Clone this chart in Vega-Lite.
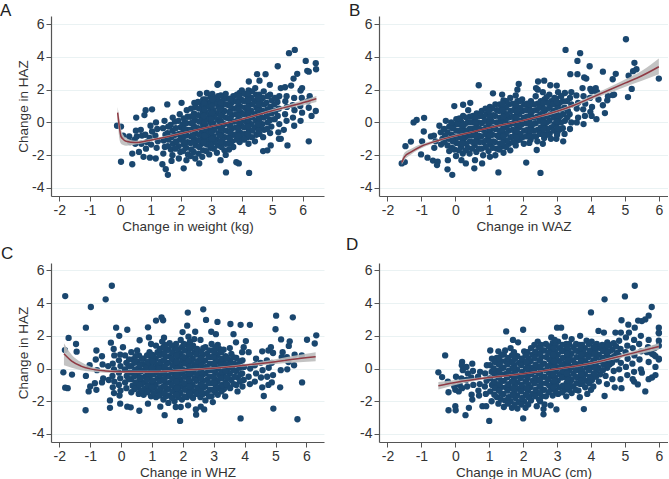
{"$schema":"https://vega.github.io/schema/vega-lite/v6.json","padding":{"left":0,"top":1,"right":0,"bottom":0},"background":"white","columns":2,"spacing":{"column":55,"row":67},"bounds":"flush","config":{"view":{"stroke":null},"font":"Liberation Sans","axis":{"domainColor":"#555555","tickColor":"#555555","labelColor":"#333333","titleColor":"#333333","labelFontSize":14,"titleFontSize":13.5,"titleFontWeight":"normal","domainWidth":1.2,"tickWidth":1,"tickSize":5,"labelPadding":2},"title":{"fontSize":17,"fontWeight":"normal","color":"#222222","anchor":"start","frame":"group","offset":0}},
"datasets":{
"a":[{"x":5.55,"y":4.23},{"x":5.74,"y":4.43},{"x":6.1,"y":3.76},{"x":6.43,"y":3.62},{"x":6.44,"y":3.25},{"x":6.2,"y":3.1},{"x":6.15,"y":3.15},{"x":5.82,"y":2.97},{"x":5.7,"y":2.68},{"x":5.18,"y":3.43},{"x":4.5,"y":2.95},{"x":4.78,"y":2.95},{"x":4.23,"y":2.5},{"x":4.58,"y":2.55},{"x":4.92,"y":2.3},{"x":3.22,"y":2.35},{"x":3.2,"y":2.3},{"x":0.03,"y":-2.4},{"x":0.4,"y":-2.55},{"x":0.4,"y":-1.9},{"x":1.57,"y":-3.2},{"x":1.5,"y":-2.85},{"x":1.39,"y":-2.55},{"x":1.17,"y":-2.2},{"x":0.98,"y":-2.15},{"x":0.77,"y":-2.1},{"x":0.62,"y":-1.8},{"x":1.69,"y":-2.35},{"x":2.09,"y":-2.8},{"x":2.6,"y":-2.5},{"x":3.48,"y":-3.05},{"x":3.82,"y":-2.43},{"x":3.9,"y":-2.5},{"x":4.24,"y":-3.08},{"x":3.3,"y":-2.3},{"x":3.47,"y":-1.98},{"x":3.58,"y":-1.65},{"x":4.7,"y":-1.75},{"x":4.84,"y":-1.7},{"x":4.95,"y":-1.4},{"x":5.5,"y":-1.4},{"x":6.2,"y":-1.15},{"x":5.22,"y":-1},{"x":5.28,"y":-1},{"x":5.38,"y":-0.45},{"x":6.43,"y":0.7},{"x":6.29,"y":0.4},{"x":-0.1,"y":-0.2},{"x":0.03,"y":-0.25},{"x":0.53,"y":0.3},{"x":0.84,"y":0.75},{"x":0.8,"y":0.45},{"x":1.05,"y":0.8},{"x":1.55,"y":1.1},{"x":2.02,"y":1.2},
{"x":0.1,"y":-0.8},{"x":0.3,"y":-0.85},{"x":0.33,"y":-1.2},{"x":0.5,"y":-1.3},{"x":0.48,"y":-1.05},{"x":0.55,"y":-0.85},{"x":0.52,"y":-0.5},{"x":0.7,"y":-1.3},{"x":0.72,"y":-0.8},{"x":0.68,"y":-0.45},{"x":0.85,"y":-1.6},{"x":0.88,"y":-1.2},{"x":0.83,"y":-0.75},
{"x":1.02,"y":-1.35},{"x":0.97,"y":-0.95},{"x":1.05,"y":-0.55},{"x":1.0,"y":-0.2},{"x":1.2,"y":-1.55},{"x":1.24,"y":-1.15},{"x":1.16,"y":-0.8},{"x":1.22,"y":-0.4},{"x":1.18,"y":0},{"x":1.42,"y":-1.9},{"x":1.47,"y":-1.5},{"x":1.43,"y":-1.1},{"x":1.49,"y":-0.75},{"x":1.41,"y":-0.35},{"x":1.46,"y":0.1},
{"x":1.72,"y":-2},{"x":1.67,"y":-1.65},{"x":1.74,"y":-1.3},{"x":1.69,"y":-0.9},{"x":1.72,"y":-0.5},{"x":1.66,"y":-0.15},{"x":1.73,"y":0.3},{"x":1.93,"y":-2.2},{"x":1.98,"y":-1.8},{"x":1.92,"y":-1.45},{"x":1.97,"y":-1.05},{"x":1.94,"y":-0.7},{"x":1.99,"y":-0.3},{"x":1.92,"y":0.1},{"x":1.96,"y":0.5},
{"x":2.18,"y":-2.3},{"x":2.23,"y":-1.95},{"x":2.17,"y":-1.55},{"x":2.22,"y":-1.2},{"x":2.19,"y":-0.8},{"x":2.24,"y":-0.45},{"x":2.18,"y":-0.05},{"x":2.22,"y":0.35},{"x":2.19,"y":0.75},{"x":2.47,"y":-2.2},{"x":2.42,"y":-1.8},{"x":2.48,"y":-1.4},{"x":2.43,"y":-1},{"x":2.47,"y":-0.65},{"x":2.44,"y":-0.25},{"x":2.46,"y":0.15},{"x":2.43,"y":0.55},{"x":2.47,"y":0.95},{"x":2.44,"y":1.2},
{"x":2.7,"y":-2.1},{"x":2.73,"y":-1.7},{"x":2.68,"y":-1.3},{"x":2.72,"y":-0.95},{"x":2.69,"y":-0.55},{"x":2.73,"y":-0.15},{"x":2.68,"y":0.25},{"x":2.72,"y":0.65},{"x":2.69,"y":1.05},{"x":2.73,"y":1.4},{"x":2.62,"y":1.75},{"x":2.93,"y":-1.95},{"x":2.97,"y":-1.55},{"x":2.92,"y":-1.15},{"x":2.96,"y":-0.8},{"x":2.93,"y":-0.4},{"x":2.98,"y":0},{"x":2.94,"y":0.4},{"x":2.97,"y":0.8},{"x":2.92,"y":1.2},{"x":2.97,"y":1.55},{"x":2.85,"y":1.8},{"x":3.03,"y":1.75},
{"x":3.18,"y":-1.85},{"x":3.22,"y":-1.4},{"x":3.17,"y":-1.05},{"x":3.23,"y":-0.65},{"x":3.19,"y":-0.25},{"x":3.22,"y":0.15},{"x":3.18,"y":0.55},{"x":3.23,"y":0.95},{"x":3.19,"y":1.3},{"x":3.22,"y":1.6},{"x":3.43,"y":-1.7},{"x":3.47,"y":-1.3},{"x":3.44,"y":-0.9},{"x":3.48,"y":-0.5},{"x":3.42,"y":-0.1},{"x":3.47,"y":0.3},{"x":3.43,"y":0.7},{"x":3.47,"y":1.1},{"x":3.44,"y":1.45},{"x":3.47,"y":1.75},
{"x":3.72,"y":-1.5},{"x":3.68,"y":-1.15},{"x":3.73,"y":-0.75},{"x":3.69,"y":-0.35},{"x":3.72,"y":0.05},{"x":3.68,"y":0.45},{"x":3.73,"y":0.85},{"x":3.69,"y":1.25},{"x":3.72,"y":1.6},{"x":3.93,"y":-1.2},{"x":3.97,"y":-0.95},{"x":3.94,"y":-0.6},{"x":3.98,"y":-0.2},{"x":3.93,"y":0.2},{"x":3.97,"y":0.6},{"x":3.94,"y":1},{"x":3.98,"y":1.4},{"x":3.93,"y":1.8},{"x":4.0,"y":1.95},
{"x":4.22,"y":-1.3},{"x":4.18,"y":-0.9},{"x":4.23,"y":-0.5},{"x":4.18,"y":-0.05},{"x":4.22,"y":0.35},{"x":4.18,"y":0.75},{"x":4.23,"y":1.15},{"x":4.19,"y":1.55},{"x":4.22,"y":1.95},{"x":4.43,"y":-1.15},{"x":4.48,"y":-0.75},{"x":4.43,"y":-0.3},{"x":4.47,"y":0.1},{"x":4.44,"y":0.5},{"x":4.48,"y":0.9},{"x":4.43,"y":1.3},{"x":4.47,"y":1.7},{"x":4.44,"y":2.1},
{"x":4.7,"y":-0.9},{"x":4.73,"y":-0.45},{"x":4.68,"y":-0.1},{"x":4.72,"y":0.3},{"x":4.68,"y":0.7},{"x":4.73,"y":1.1},{"x":4.69,"y":1.5},{"x":4.72,"y":1.9},{"x":4.93,"y":-0.65},{"x":4.97,"y":-0.25},{"x":4.93,"y":0.15},{"x":4.98,"y":0.55},{"x":4.94,"y":0.95},{"x":4.98,"y":1.35},{"x":4.93,"y":1.7},
{"x":5.2,"y":-0.6},{"x":5.23,"y":-0.1},{"x":5.18,"y":0.4},{"x":5.22,"y":0.85},{"x":5.17,"y":1.25},{"x":5.23,"y":1.6},{"x":5.28,"y":2.1},{"x":5.47,"y":0.1},{"x":5.42,"y":0.5},{"x":5.48,"y":0.95},{"x":5.43,"y":1.3},{"x":5.47,"y":1.6},{"x":5.42,"y":2.15},{"x":5.72,"y":-0.2},{"x":5.68,"y":0.3},{"x":5.73,"y":0.75},{"x":5.67,"y":1.05},{"x":5.72,"y":1.5},{"x":5.62,"y":2.25},{"x":5.93,"y":0.1},{"x":5.98,"y":0.6},{"x":5.92,"y":1},{"x":5.97,"y":1.5},{"x":5.93,"y":1.95},{"x":5.98,"y":2.1},{"x":6.2,"y":0.9},{"x":6.17,"y":1.3},{"x":6.23,"y":1.6},
{"x":1.57,"y":-1.45},{"x":1.59,"y":-1.05},{"x":1.56,"y":-0.65},{"x":1.58,"y":-0.25},{"x":1.82,"y":-1.6},{"x":1.84,"y":-1.15},{"x":1.81,"y":-0.75},{"x":1.83,"y":-0.35},{"x":1.8,"y":0.05},{"x":2.07,"y":-1.75},{"x":2.09,"y":-1.35},{"x":2.06,"y":-0.95},{"x":2.08,"y":-0.55},{"x":2.05,"y":-0.15},{"x":2.09,"y":0.25},{"x":2.32,"y":-2.05},{"x":2.34,"y":-1.65},{"x":2.31,"y":-1.25},{"x":2.33,"y":-0.85},{"x":2.3,"y":-0.45},{"x":2.34,"y":-0.05},{"x":2.31,"y":0.35},{"x":2.33,"y":0.85},{"x":2.58,"y":-1.9},{"x":2.6,"y":-1.5},{"x":2.57,"y":-1.1},{"x":2.59,"y":-0.75},{"x":2.56,"y":-0.35},{"x":2.6,"y":0.05},{"x":2.57,"y":0.45},{"x":2.59,"y":0.85},{"x":2.56,"y":1.25},{"x":2.83,"y":-1.75},{"x":2.85,"y":-1.35},{"x":2.82,"y":-1},{"x":2.84,"y":-0.6},{"x":2.81,"y":-0.2},{"x":2.85,"y":0.2},{"x":2.82,"y":0.6},{"x":2.84,"y":1},{"x":2.81,"y":1.4},{"x":3.08,"y":-1.6},{"x":3.1,"y":-1.2},{"x":3.07,"y":-0.85},{"x":3.09,"y":-0.45},{"x":3.06,"y":-0.05},{"x":3.1,"y":0.35},{"x":3.07,"y":0.75},{"x":3.09,"y":1.15},{"x":3.06,"y":1.5},{"x":3.33,"y":-1.5},{"x":3.35,"y":-1.1},{"x":3.32,"y":-0.7},{"x":3.34,"y":-0.3},{"x":3.31,"y":0.1},{"x":3.35,"y":0.5},{"x":3.32,"y":0.9},{"x":3.34,"y":1.3},{"x":3.31,"y":1.65},{"x":3.58,"y":-1.3},{"x":3.6,"y":-0.9},{"x":3.57,"y":-0.55},{"x":3.59,"y":-0.15},{"x":3.56,"y":0.25},{"x":3.6,"y":0.65},{"x":3.57,"y":1.05},{"x":3.59,"y":1.45},{"x":3.83,"y":-1.05},{"x":3.85,"y":-0.7},{"x":3.82,"y":-0.3},{"x":3.84,"y":0.1},{"x":3.81,"y":0.5},{"x":3.85,"y":0.9},{"x":3.82,"y":1.3},{"x":3.84,"y":1.7},{"x":4.08,"y":-1.05},{"x":4.1,"y":-0.7},{"x":4.07,"y":-0.3},{"x":4.09,"y":0.1},{"x":4.06,"y":0.5},{"x":4.1,"y":0.9},{"x":4.07,"y":1.3},{"x":4.09,"y":1.75},{"x":4.33,"y":-0.9},{"x":4.35,"y":-0.5},{"x":4.32,"y":-0.1},{"x":4.34,"y":0.3},{"x":4.31,"y":0.7},{"x":4.35,"y":1.1},{"x":4.32,"y":1.5},{"x":4.34,"y":1.9},{"x":4.58,"y":-0.7},{"x":4.6,"y":-0.3},{"x":4.57,"y":0.1},{"x":4.59,"y":0.5},{"x":4.56,"y":0.9},{"x":4.6,"y":1.3},{"x":4.57,"y":1.7},{"x":4.83,"y":-0.4},{"x":4.85,"y":0},{"x":4.82,"y":0.4},{"x":4.84,"y":0.8},{"x":4.81,"y":1.2},{"x":4.85,"y":1.6},{"x":5.08,"y":0.2},{"x":5.1,"y":0.7},{"x":5.07,"y":1.1},{"x":5.09,"y":1.5},
{"x":2.1,"y":-1.2},{"x":2.12,"y":-0.8},{"x":2.11,"y":-0.4},{"x":2.13,"y":0},{"x":2.4,"y":-1.2},{"x":2.38,"y":-0.8},{"x":2.41,"y":-0.4},{"x":2.39,"y":0},{"x":2.4,"y":0.4},{"x":2.75,"y":-1.2},{"x":2.77,"y":-0.8},{"x":2.76,"y":-0.4},{"x":2.78,"y":0},{"x":2.75,"y":0.4},{"x":2.77,"y":0.8},{"x":2.76,"y":1.2},{"x":3,"y":-1.4},{"x":3.02,"y":-1},{"x":3.01,"y":-0.6},{"x":3.03,"y":-0.2},{"x":3,"y":0.2},{"x":3.02,"y":0.6},{"x":3.01,"y":1},{"x":3.03,"y":1.4},{"x":3.3,"y":-1.2},{"x":3.28,"y":-0.8},{"x":3.31,"y":-0.4},{"x":3.29,"y":0},{"x":3.3,"y":0.4},{"x":3.28,"y":0.8},{"x":3.31,"y":1.2},{"x":3.6,"y":-1},{"x":3.62,"y":-0.6},{"x":3.61,"y":-0.2},{"x":3.63,"y":0.2},{"x":3.6,"y":0.6},{"x":3.62,"y":1},{"x":3.61,"y":1.4},{"x":3.9,"y":-0.8},{"x":3.88,"y":-0.4},{"x":3.91,"y":0},{"x":3.89,"y":0.4},{"x":3.9,"y":0.8},{"x":3.88,"y":1.2},{"x":3.91,"y":1.6},{"x":4.2,"y":-0.7},{"x":4.22,"y":-0.25},{"x":4.21,"y":0.15},{"x":4.23,"y":0.55},{"x":4.2,"y":0.95},{"x":4.22,"y":1.35},{"x":4.21,"y":1.75},{"x":4.55,"y":-0.5},{"x":4.53,"y":-0.1},{"x":4.56,"y":0.3},{"x":4.54,"y":0.7},{"x":4.55,"y":1.1},{"x":4.53,"y":1.5}],
"ac":[{"x":-0.08,"y":0.6,"lo":0.1,"hi":0.95},{"x":-0.03,"y":-0.2,"lo":-0.9,"hi":0.35},{"x":0.03,"y":-0.85,"lo":-1.3,"hi":-0.4},{"x":0.1,"y":-1.02,"lo":-1.38,"hi":-0.75},{"x":0.2,"y":-1.15,"lo":-1.42,"hi":-0.95},{"x":0.5,"y":-1.23,"lo":-1.35,"hi":-1.12},{"x":1,"y":-1.08,"lo":-1.16,"hi":-1},{"x":2,"y":-0.68,"lo":-0.74,"hi":-0.62},{"x":3,"y":-0.25,"lo":-0.3,"hi":-0.2},{"x":4,"y":0.2,"lo":0.15,"hi":0.26},{"x":5,"y":0.72,"lo":0.64,"hi":0.8},{"x":6,"y":1.2,"lo":1.05,"hi":1.35},{"x":6.45,"y":1.45,"lo":1.25,"hi":1.62}],
"b":[{"x":5.03,"y":5.08},{"x":3.25,"y":4.43},{"x":3.68,"y":4.23},{"x":3.6,"y":3.76},{"x":3.96,"y":3.43},{"x":3.39,"y":2.95},{"x":3.6,"y":2.95},{"x":3.8,"y":2.75},{"x":3.86,"y":2.68},{"x":4.35,"y":3.1},{"x":4.73,"y":2.97},{"x":4.64,"y":2.64},{"x":5.28,"y":3.64},{"x":5.34,"y":3.25},{"x":5.24,"y":3.13},{"x":5.11,"y":2.85},{"x":6,"y":2.68},{"x":5.2,"y":2.05},{"x":5.09,"y":1.55},{"x":4.68,"y":1.7},{"x":4.64,"y":1.67},{"x":4.48,"y":1.35},{"x":4.35,"y":1.05},{"x":4.41,"y":0.57},{"x":4.16,"y":0.2},{"x":0.69,"y":2.27},{"x":-0.03,"y":1},{"x":0.23,"y":1.08},{"x":0.44,"y":1.2},{"x":-0.92,"y":0.28},{"x":-1.14,"y":0.15},{"x":-1.23,"y":0},{"x":-0.93,"y":-0.55},{"x":-0.72,"y":-0.85},{"x":-0.98,"y":-1.15},{"x":-1.31,"y":-1.17},{"x":-1.47,"y":-1.45},{"x":-1.01,"y":-1.95},{"x":-0.82,"y":-2.15},{"x":-0.66,"y":-2.33},{"x":-0.52,"y":-2.4},{"x":-0.54,"y":-2.6},{"x":-1.58,"y":-2.5},{"x":-1.49,"y":-2.42},{"x":-0.23,"y":-2.86},{"x":-0.09,"y":-3.2},{"x":1.27,"y":-3.05},{"x":2.51,"y":-3.08},{"x":2.09,"y":-2.45},{"x":2.4,"y":-1.68},{"x":0.56,"y":-2.8},{"x":0.79,"y":-2.5},{"x":0.31,"y":-2.5},{"x":1.87,"y":2.35},{"x":1.11,"y":1.78},{"x":2.62,"y":2.55},{"x":2.44,"y":2.5},{"x":2.38,"y":2.1},{"x":2.8,"y":2.27},{"x":2.99,"y":2.25},
{"x":-0.62,"y":-1.55},{"x":-0.58,"y":-1.15},{"x":-0.63,"y":-0.8},{"x":-0.42,"y":-1.35},{"x":-0.38,"y":-1},{"x":-0.43,"y":-0.6},{"x":-0.47,"y":-0.2},{"x":-0.22,"y":-2.3},{"x":-0.18,"y":-1.75},{"x":-0.23,"y":-1.4},{"x":-0.19,"y":-1},{"x":-0.23,"y":-0.6},{"x":-0.18,"y":-0.25},{"x":-0.28,"y":0.1},
{"x":0.02,"y":-2.05},{"x":-0.03,"y":-1.65},{"x":0.03,"y":-1.25},{"x":-0.02,"y":-0.9},{"x":0.03,"y":-0.5},{"x":-0.03,"y":-0.15},{"x":0.03,"y":0.2},{"x":0.18,"y":-2.3},{"x":0.22,"y":-1.9},{"x":0.17,"y":-1.5},{"x":0.23,"y":-1.1},{"x":0.18,"y":-0.7},{"x":0.22,"y":-0.35},{"x":0.17,"y":0.05},{"x":0.23,"y":0.4},
{"x":0.42,"y":-1.9},{"x":0.37,"y":-1.55},{"x":0.43,"y":-1.15},{"x":0.38,"y":-0.8},{"x":0.42,"y":-0.4},{"x":0.37,"y":0},{"x":0.43,"y":0.35},{"x":0.38,"y":0.75},{"x":0.58,"y":-2.3},{"x":0.62,"y":-1.8},{"x":0.57,"y":-1.4},{"x":0.63,"y":-1},{"x":0.58,"y":-0.6},{"x":0.62,"y":-0.2},{"x":0.57,"y":0.2},{"x":0.63,"y":0.55},
{"x":0.82,"y":-2},{"x":0.78,"y":-1.6},{"x":0.83,"y":-1.2},{"x":0.77,"y":-0.85},{"x":0.82,"y":-0.45},{"x":0.78,"y":-0.05},{"x":0.83,"y":0.35},{"x":0.78,"y":0.7},{"x":1.02,"y":-2.1},{"x":0.98,"y":-1.75},{"x":1.03,"y":-1.35},{"x":0.97,"y":-0.95},{"x":1.02,"y":-0.6},{"x":0.98,"y":-0.2},{"x":1.03,"y":0.15},{"x":0.97,"y":0.55},{"x":1.02,"y":0.95},
{"x":1.18,"y":-2},{"x":1.22,"y":-1.6},{"x":1.17,"y":-1.2},{"x":1.23,"y":-0.8},{"x":1.18,"y":-0.4},{"x":1.22,"y":0},{"x":1.17,"y":0.4},{"x":1.23,"y":0.75},{"x":1.18,"y":1.1},{"x":1.42,"y":-1.85},{"x":1.38,"y":-1.45},{"x":1.43,"y":-1.05},{"x":1.37,"y":-0.65},{"x":1.42,"y":-0.25},{"x":1.38,"y":0.15},{"x":1.43,"y":0.55},{"x":1.37,"y":0.95},{"x":1.42,"y":1.35},{"x":1.38,"y":1.7},
{"x":1.62,"y":-1.7},{"x":1.58,"y":-1.3},{"x":1.63,"y":-0.9},{"x":1.57,"y":-0.5},{"x":1.62,"y":-0.1},{"x":1.58,"y":0.3},{"x":1.63,"y":0.7},{"x":1.57,"y":1.1},{"x":1.62,"y":1.5},{"x":1.78,"y":-1.4},{"x":1.82,"y":-1.1},{"x":1.77,"y":-0.7},{"x":1.83,"y":-0.3},{"x":1.78,"y":0.1},{"x":1.82,"y":0.5},{"x":1.77,"y":0.9},{"x":1.83,"y":1.3},{"x":1.78,"y":1.65},{"x":1.83,"y":2},
{"x":2.02,"y":-1.3},{"x":1.98,"y":-0.9},{"x":2.03,"y":-0.5},{"x":1.97,"y":-0.1},{"x":2.02,"y":0.3},{"x":1.98,"y":0.7},{"x":2.03,"y":1.1},{"x":1.97,"y":1.4},{"x":2.18,"y":-1.25},{"x":2.22,"y":-1.05},{"x":2.17,"y":-0.7},{"x":2.23,"y":-0.3},{"x":2.18,"y":0.1},{"x":2.22,"y":0.5},{"x":2.17,"y":0.9},{"x":2.23,"y":1.3},
{"x":2.42,"y":-1.15},{"x":2.38,"y":-0.85},{"x":2.43,"y":-0.45},{"x":2.37,"y":-0.05},{"x":2.42,"y":0.35},{"x":2.38,"y":0.75},{"x":2.43,"y":1.15},{"x":2.37,"y":1.6},{"x":2.43,"y":2},{"x":2.58,"y":-1.3},{"x":2.62,"y":-0.95},{"x":2.57,"y":-0.6},{"x":2.63,"y":-0.2},{"x":2.58,"y":0.2},{"x":2.62,"y":0.6},{"x":2.57,"y":1},{"x":2.63,"y":1.4},{"x":2.58,"y":1.85},
{"x":2.82,"y":-1},{"x":2.78,"y":-0.7},{"x":2.83,"y":-0.3},{"x":2.77,"y":0.1},{"x":2.82,"y":0.5},{"x":2.78,"y":0.9},{"x":2.83,"y":1.3},{"x":2.77,"y":1.7},{"x":2.98,"y":-1},{"x":3.02,"y":-0.55},{"x":2.97,"y":-0.15},{"x":3.03,"y":0.25},{"x":2.98,"y":0.65},{"x":3.02,"y":1.05},{"x":2.97,"y":1.45},{"x":3.03,"y":1.85},
{"x":3.18,"y":-1.15},{"x":3.22,"y":-0.7},{"x":3.17,"y":-0.35},{"x":3.23,"y":0.1},{"x":3.18,"y":0.5},{"x":3.22,"y":0.9},{"x":3.17,"y":1.3},{"x":3.23,"y":1.8},{"x":3.38,"y":-0.4},{"x":3.42,"y":0},{"x":3.37,"y":0.5},{"x":3.42,"y":1.1},{"x":3.38,"y":1.5},{"x":3.42,"y":1.85},{"x":3.58,"y":0},{"x":3.62,"y":0.3},{"x":3.58,"y":0.85},{"x":3.62,"y":1.2},{"x":3.57,"y":1.65},
{"x":3.78,"y":-0.1},{"x":3.82,"y":0.4},{"x":3.77,"y":0.8},{"x":3.83,"y":1.15},{"x":3.78,"y":1.6},{"x":3.75,"y":2.1},{"x":4.02,"y":0.4},{"x":3.98,"y":0.65},{"x":4.03,"y":0.95},{"x":3.97,"y":1.5},{"x":4.02,"y":1.9},{"x":3.98,"y":2.05},{"x":4.22,"y":1.4},{"x":4.18,"y":1.85},{"x":4.14,"y":2.1},{"x":4.5,"y":1.6},
{"x":-0.32,"y":-1.2},{"x":-0.3,"y":-0.8},{"x":-0.33,"y":-0.4},{"x":-0.1,"y":-1.55},{"x":-0.08,"y":-1.15},{"x":-0.11,"y":-0.75},{"x":-0.09,"y":-0.35},{"x":-0.12,"y":0},{"x":0.1,"y":-1.7},{"x":0.12,"y":-1.3},{"x":0.09,"y":-0.9},{"x":0.11,"y":-0.5},{"x":0.08,"y":-0.1},{"x":0.12,"y":0.25},{"x":0.3,"y":-1.7},{"x":0.32,"y":-1.3},{"x":0.29,"y":-0.9},{"x":0.31,"y":-0.5},{"x":0.28,"y":-0.1},{"x":0.32,"y":0.3},{"x":0.5,"y":-1.6},{"x":0.52,"y":-1.2},{"x":0.49,"y":-0.8},{"x":0.51,"y":-0.4},{"x":0.48,"y":0},{"x":0.52,"y":0.4},{"x":0.7,"y":-1.6},{"x":0.72,"y":-1.2},{"x":0.69,"y":-0.8},{"x":0.71,"y":-0.4},{"x":0.68,"y":0},{"x":0.72,"y":0.4},{"x":0.9,"y":-1.5},{"x":0.92,"y":-1.1},{"x":0.89,"y":-0.7},{"x":0.91,"y":-0.3},{"x":0.88,"y":0.1},{"x":0.92,"y":0.5},{"x":0.89,"y":0.85},{"x":1.1,"y":-1.55},{"x":1.12,"y":-1.15},{"x":1.09,"y":-0.75},{"x":1.11,"y":-0.35},{"x":1.08,"y":0.05},{"x":1.12,"y":0.45},{"x":1.09,"y":0.85},{"x":1.3,"y":-1.65},{"x":1.32,"y":-1.3},{"x":1.29,"y":-0.9},{"x":1.31,"y":-0.5},{"x":1.28,"y":-0.1},{"x":1.32,"y":0.3},{"x":1.29,"y":0.7},{"x":1.31,"y":1.1},{"x":1.5,"y":-1.5},{"x":1.52,"y":-1.1},{"x":1.49,"y":-0.7},{"x":1.51,"y":-0.3},{"x":1.48,"y":0.1},{"x":1.52,"y":0.5},{"x":1.49,"y":0.9},{"x":1.51,"y":1.3},{"x":1.7,"y":-1.2},{"x":1.72,"y":-0.85},{"x":1.69,"y":-0.45},{"x":1.71,"y":-0.05},{"x":1.68,"y":0.35},{"x":1.72,"y":0.75},{"x":1.69,"y":1.15},{"x":1.9,"y":-1.05},{"x":1.92,"y":-0.7},{"x":1.89,"y":-0.3},{"x":1.91,"y":0.1},{"x":1.88,"y":0.5},{"x":1.92,"y":0.9},{"x":1.89,"y":1.3},{"x":2.1,"y":-0.85},{"x":2.12,"y":-0.45},{"x":2.09,"y":-0.05},{"x":2.11,"y":0.35},{"x":2.08,"y":0.75},{"x":2.12,"y":1.15},{"x":2.3,"y":-0.85},{"x":2.32,"y":-0.5},{"x":2.29,"y":-0.1},{"x":2.31,"y":0.3},{"x":2.28,"y":0.7},{"x":2.32,"y":1.1},{"x":2.5,"y":-0.7},{"x":2.52,"y":-0.3},{"x":2.49,"y":0.1},{"x":2.51,"y":0.5},{"x":2.48,"y":0.9},{"x":2.52,"y":1.3},{"x":2.7,"y":-0.75},{"x":2.72,"y":-0.4},{"x":2.69,"y":0},{"x":2.71,"y":0.4},{"x":2.68,"y":0.8},{"x":2.72,"y":1.2},{"x":2.69,"y":1.55},{"x":2.9,"y":-0.5},{"x":2.92,"y":-0.1},{"x":2.89,"y":0.3},{"x":2.91,"y":0.7},{"x":2.88,"y":1.1},{"x":2.92,"y":1.5},{"x":3.1,"y":-0.4},{"x":3.12,"y":0},{"x":3.09,"y":0.4},{"x":3.11,"y":0.8},{"x":3.08,"y":1.2},{"x":3.12,"y":1.6},{"x":3.3,"y":0.3},{"x":3.32,"y":0.7},{"x":3.29,"y":1.3},
{"x":0.2,"y":-1.3},{"x":0.21,"y":-0.9},{"x":0.19,"y":-0.5},{"x":0.2,"y":-0.2},{"x":0.6,"y":-1.2},{"x":0.61,"y":-0.8},{"x":0.59,"y":-0.4},{"x":0.6,"y":0},{"x":0.61,"y":0.35},{"x":1,"y":-1.15},{"x":1.01,"y":-0.8},{"x":0.99,"y":-0.4},{"x":1,"y":0},{"x":1.01,"y":0.35},{"x":0.99,"y":0.7},{"x":1.4,"y":-1.25},{"x":1.41,"y":-0.85},{"x":1.39,"y":-0.45},{"x":1.4,"y":-0.05},{"x":1.41,"y":0.35},{"x":1.39,"y":0.75},{"x":1.4,"y":1.15},{"x":1.8,"y":-0.9},{"x":1.81,"y":-0.5},{"x":1.79,"y":-0.1},{"x":1.8,"y":0.3},{"x":1.81,"y":0.7},{"x":1.79,"y":1.1},{"x":2.2,"y":-0.85},{"x":2.21,"y":-0.5},{"x":2.19,"y":-0.1},{"x":2.2,"y":0.3},{"x":2.21,"y":0.7},{"x":2.19,"y":1.1},{"x":2.6,"y":-0.75},{"x":2.61,"y":-0.4},{"x":2.59,"y":0},{"x":2.6,"y":0.4},{"x":2.61,"y":0.8},{"x":2.59,"y":1.2},{"x":3,"y":-0.75},{"x":3.01,"y":-0.35},{"x":2.99,"y":0.05},{"x":3,"y":0.45},{"x":3.01,"y":0.85},{"x":2.99,"y":1.25}],
"bc":[{"x":-1.58,"y":-2.45,"lo":-2.6,"hi":-2.3},{"x":-1.5,"y":-2.1,"lo":-2.3,"hi":-1.85},{"x":-1.3,"y":-1.8,"lo":-1.95,"hi":-1.6},{"x":-1,"y":-1.45,"lo":-1.58,"hi":-1.32},{"x":-0.5,"y":-1.1,"lo":-1.18,"hi":-1.02},{"x":0,"y":-0.82,"lo":-0.88,"hi":-0.75},{"x":0.5,"y":-0.58,"lo":-0.63,"hi":-0.53},{"x":1,"y":-0.32,"lo":-0.37,"hi":-0.27},{"x":1.5,"y":-0.1,"lo":-0.15,"hi":-0.05},{"x":2,"y":0.12,"lo":0.07,"hi":0.17},{"x":2.5,"y":0.38,"lo":0.32,"hi":0.44},{"x":3,"y":0.68,"lo":0.6,"hi":0.76},{"x":3.5,"y":1.05,"lo":0.95,"hi":1.15},{"x":4,"y":1.5,"lo":1.37,"hi":1.63},{"x":4.5,"y":1.95,"lo":1.78,"hi":2.12},{"x":5,"y":2.4,"lo":2.17,"hi":2.62},{"x":5.5,"y":2.85,"lo":2.55,"hi":3.15},{"x":6,"y":3.4,"lo":2.95,"hi":3.9}],
"c":[{"x":-1.81,"y":4.43},{"x":-0.3,"y":5.06},{"x":-0.5,"y":4.23},{"x":-0.98,"y":3.76},{"x":-1.14,"y":2.5},{"x":-0.16,"y":2.5},{"x":0.2,"y":2.37},{"x":-1.7,"y":1.87},{"x":-1.46,"y":1.5},{"x":-1.44,"y":1.03},{"x":-1.82,"y":1.13},{"x":-0.8,"y":1.1},{"x":-0.33,"y":1.58},{"x":-0.06,"y":2},{"x":-0.24,"y":1.2},{"x":0.06,"y":1.3},{"x":-1.87,"y":-0.23},{"x":-1.59,"y":-0.37},{"x":-1.81,"y":-1.17},{"x":-1.73,"y":-1.2},{"x":-1.14,"y":-0.45},{"x":-1.15,"y":-2.55},{"x":-0.36,"y":-2.4},{"x":-0.36,"y":-1.95},{"x":-0.03,"y":-2.15},{"x":0.2,"y":-2.33},{"x":0.31,"y":-2.37},{"x":0.59,"y":-2.58},{"x":0.87,"y":-2.15},{"x":1.27,"y":-2.33},{"x":1.41,"y":-2.85},{"x":1.91,"y":-3.2},{"x":2.42,"y":-2.5},{"x":2.43,"y":-2.82},{"x":2.58,"y":-2.33},{"x":2.69,"y":-2.5},{"x":3.87,"y":-3.05},{"x":5.71,"y":-3.1},{"x":5.86,"y":-0.85},{"x":4.93,"y":-2.45},{"x":5.15,"y":-1.15},{"x":4.62,"y":-1.68},{"x":1.13,"y":2.93},{"x":1.31,"y":3.13},{"x":1.36,"y":2.95},{"x":2.16,"y":3.42},{"x":2.66,"y":3.62},{"x":2.75,"y":2.97},{"x":3.12,"y":2.85},{"x":3.54,"y":2.72},{"x":3.87,"y":2.67},{"x":4.17,"y":2.67},{"x":5.02,"y":3.23},{"x":5.56,"y":3.13},{"x":5,"y":2.4},{"x":5.18,"y":1.78},{"x":5.46,"y":1.66},{"x":5.43,"y":1.38},{"x":6.02,"y":1.76},{"x":6.27,"y":1.53},{"x":6.32,"y":2.03},{"x":0.87,"y":2.52},{"x":2.14,"y":2.62},{"x":1.99,"y":2.23},{"x":2.92,"y":2.25},{"x":3.07,"y":2.1},{"x":2.4,"y":2.25},{"x":3.64,"y":2.1},{"x":4.04,"y":1.68},{"x":3.72,"y":1.6},{"x":0.6,"y":1.73},{"x":1.39,"y":1.88},
{"x":-1.05,"y":-1.4},{"x":-1.0,"y":-1.1},{"x":-1.02,"y":0.2},{"x":-0.8,"y":-1.3},{"x":-0.85,"y":-0.9},{"x":-0.78,"y":-0.1},{"x":-0.82,"y":0.55},{"x":-0.62,"y":-0.85},{"x":-0.58,"y":-0.6},{"x":-0.6,"y":0.25},{"x":-0.62,"y":0.75},{"x":-0.4,"y":-0.7},{"x":-0.42,"y":0.15},
{"x":-0.23,"y":-1.5},{"x":-0.27,"y":-1.15},{"x":-0.22,"y":-0.8},{"x":-0.28,"y":-0.45},{"x":-0.23,"y":-0.05},{"x":-0.27,"y":0.3},{"x":-0.22,"y":0.8},{"x":-0.05,"y":-1.65},{"x":-0.02,"y":-1.35},{"x":-0.07,"y":-1},{"x":-0.03,"y":-0.6},{"x":-0.07,"y":-0.25},{"x":-0.02,"y":0.15},{"x":-0.07,"y":0.5},{"x":-0.03,"y":0.85},
{"x":0.17,"y":-1.2},{"x":0.13,"y":-0.85},{"x":0.18,"y":-0.45},{"x":0.12,"y":-0.05},{"x":0.17,"y":0.35},{"x":0.13,"y":0.8},{"x":0.33,"y":-1.45},{"x":0.37,"y":-1.05},{"x":0.33,"y":-0.65},{"x":0.37,"y":-0.25},{"x":0.32,"y":0.15},{"x":0.38,"y":0.55},{"x":0.33,"y":1},
{"x":0.57,"y":-1.55},{"x":0.53,"y":-1.15},{"x":0.58,"y":-0.8},{"x":0.52,"y":-0.4},{"x":0.57,"y":0},{"x":0.53,"y":0.4},{"x":0.58,"y":0.8},{"x":0.52,"y":1.1},{"x":0.73,"y":-1.6},{"x":0.77,"y":-1.25},{"x":0.72,"y":-0.85},{"x":0.78,"y":-0.5},{"x":0.73,"y":-0.1},{"x":0.77,"y":0.25},{"x":0.73,"y":0.6},
{"x":0.97,"y":-1.7},{"x":0.93,"y":-1.3},{"x":0.98,"y":-0.95},{"x":0.92,"y":-0.55},{"x":0.97,"y":-0.15},{"x":0.93,"y":0.2},{"x":0.98,"y":0.6},{"x":0.92,"y":1},{"x":0.97,"y":1.5},{"x":0.9,"y":1.9},{"x":1.13,"y":-1.75},{"x":1.17,"y":-1.4},{"x":1.12,"y":-1},{"x":1.18,"y":-0.6},{"x":1.13,"y":-0.2},{"x":1.17,"y":0.2},{"x":1.12,"y":0.6},{"x":1.18,"y":1},{"x":1.13,"y":1.4},
{"x":1.37,"y":-1.9},{"x":1.33,"y":-1.5},{"x":1.38,"y":-1.1},{"x":1.32,"y":-0.7},{"x":1.37,"y":-0.3},{"x":1.33,"y":0.1},{"x":1.38,"y":0.5},{"x":1.32,"y":0.9},{"x":1.37,"y":1.3},{"x":1.33,"y":1.65},{"x":1.53,"y":-2.1},{"x":1.57,"y":-1.65},{"x":1.52,"y":-1.25},{"x":1.58,"y":-0.85},{"x":1.53,"y":-0.45},{"x":1.57,"y":-0.05},{"x":1.52,"y":0.35},{"x":1.58,"y":0.75},{"x":1.53,"y":1.15},{"x":1.57,"y":1.55},
{"x":1.77,"y":-2.35},{"x":1.73,"y":-2},{"x":1.78,"y":-1.55},{"x":1.72,"y":-1.15},{"x":1.77,"y":-0.75},{"x":1.73,"y":-0.35},{"x":1.78,"y":0.05},{"x":1.72,"y":0.45},{"x":1.77,"y":0.85},{"x":1.73,"y":1.25},{"x":1.78,"y":1.5},{"x":1.93,"y":-2.35},{"x":1.97,"y":-1.9},{"x":1.92,"y":-1.5},{"x":1.98,"y":-1.1},{"x":1.93,"y":-0.7},{"x":1.97,"y":-0.3},{"x":1.92,"y":0.1},{"x":1.98,"y":0.5},{"x":1.93,"y":0.9},{"x":1.97,"y":1.3},{"x":1.93,"y":1.75},
{"x":2.17,"y":-2.25},{"x":2.13,"y":-1.75},{"x":2.18,"y":-1.35},{"x":2.12,"y":-0.95},{"x":2.17,"y":-0.55},{"x":2.13,"y":-0.15},{"x":2.18,"y":0.25},{"x":2.12,"y":0.65},{"x":2.17,"y":1.05},{"x":2.13,"y":1.45},{"x":2.18,"y":1.95},{"x":2.33,"y":-1.8},{"x":2.37,"y":-1.4},{"x":2.32,"y":-1},{"x":2.38,"y":-0.6},{"x":2.33,"y":-0.2},{"x":2.37,"y":0.2},{"x":2.32,"y":0.6},{"x":2.38,"y":1},{"x":2.33,"y":1.4},{"x":2.37,"y":1.8},
{"x":2.57,"y":-1.75},{"x":2.53,"y":-1.35},{"x":2.58,"y":-0.95},{"x":2.52,"y":-0.55},{"x":2.57,"y":-0.15},{"x":2.53,"y":0.25},{"x":2.58,"y":0.65},{"x":2.52,"y":1.05},{"x":2.57,"y":1.75},{"x":2.73,"y":-1.95},{"x":2.77,"y":-1.5},{"x":2.72,"y":-1.1},{"x":2.78,"y":-0.7},{"x":2.73,"y":-0.3},{"x":2.77,"y":0.1},{"x":2.72,"y":0.5},{"x":2.78,"y":0.9},{"x":2.73,"y":1.3},
{"x":2.97,"y":-2.05},{"x":2.93,"y":-1.7},{"x":2.98,"y":-1.3},{"x":2.92,"y":-0.9},{"x":2.97,"y":-0.5},{"x":2.93,"y":-0.1},{"x":2.98,"y":0.3},{"x":2.92,"y":0.7},{"x":2.97,"y":1.1},{"x":2.93,"y":1.5},{"x":3.13,"y":-1.6},{"x":3.17,"y":-1.2},{"x":3.12,"y":-0.8},{"x":3.18,"y":-0.4},{"x":3.13,"y":0},{"x":3.17,"y":0.4},{"x":3.12,"y":0.8},{"x":3.18,"y":1.2},{"x":3.13,"y":1.45},
{"x":3.37,"y":-1.7},{"x":3.33,"y":-1.25},{"x":3.38,"y":-0.85},{"x":3.32,"y":-0.45},{"x":3.37,"y":-0.05},{"x":3.33,"y":0.35},{"x":3.38,"y":0.75},{"x":3.32,"y":1.15},{"x":3.53,"y":-1.2},{"x":3.57,"y":-0.7},{"x":3.52,"y":-0.3},{"x":3.58,"y":0.1},{"x":3.53,"y":0.5},{"x":3.57,"y":0.9},{"x":3.52,"y":1.25},
{"x":3.77,"y":-1.4},{"x":3.73,"y":-1},{"x":3.78,"y":-0.55},{"x":3.72,"y":-0.15},{"x":3.77,"y":0.25},{"x":3.73,"y":0.65},{"x":3.93,"y":-1.1},{"x":3.97,"y":-0.7},{"x":3.92,"y":-0.3},{"x":3.98,"y":0.1},{"x":3.93,"y":0.5},{"x":3.97,"y":1.3},{"x":3.92,"y":1},{"x":4.17,"y":-0.95},{"x":4.13,"y":-0.5},{"x":4.18,"y":0},{"x":4.13,"y":1},
{"x":4.33,"y":-0.8},{"x":4.37,"y":-0.3},{"x":4.33,"y":0.2},{"x":4.37,"y":0.6},{"x":4.57,"y":-1.15},{"x":4.53,"y":-0.55},{"x":4.58,"y":-0.1},{"x":4.52,"y":0.35},{"x":4.57,"y":1.05},{"x":4.77,"y":-1},{"x":4.73,"y":-0.5},{"x":4.78,"y":0.05},{"x":4.72,"y":0.5},{"x":4.77,"y":1.1},{"x":4.88,"y":-0.85},{"x":4.92,"y":-0.4},{"x":4.88,"y":0.35},{"x":4.85,"y":1.3},{"x":4.92,"y":0.95},
{"x":5.2,"y":0.7},{"x":5.17,"y":-0.1},{"x":5.23,"y":1},{"x":5.38,"y":-0.05},{"x":5.42,"y":0.4},{"x":5.37,"y":0.7},{"x":5.6,"y":0.2},{"x":5.62,"y":0.85},{"x":5.85,"y":0.8},
{"x":0.25,"y":-0.65},{"x":0.27,"y":-0.25},{"x":0.24,"y":0.15},{"x":0.26,"y":0.55},{"x":0.45,"y":-1.25},{"x":0.47,"y":-0.85},{"x":0.44,"y":-0.45},{"x":0.46,"y":-0.05},{"x":0.43,"y":0.35},{"x":0.47,"y":0.75},{"x":0.65,"y":-1.35},{"x":0.67,"y":-0.95},{"x":0.64,"y":-0.55},{"x":0.66,"y":-0.15},{"x":0.63,"y":0.25},{"x":0.67,"y":0.6},{"x":0.85,"y":-1.45},{"x":0.87,"y":-1.05},{"x":0.84,"y":-0.7},{"x":0.86,"y":-0.3},{"x":0.83,"y":0.05},{"x":0.87,"y":0.4},{"x":0.84,"y":0.8},{"x":1.05,"y":-1.5},{"x":1.07,"y":-1.15},{"x":1.04,"y":-0.75},{"x":1.06,"y":-0.35},{"x":1.03,"y":0},{"x":1.07,"y":0.4},{"x":1.04,"y":0.8},{"x":1.25,"y":-1.65},{"x":1.27,"y":-1.2},{"x":1.24,"y":-0.8},{"x":1.26,"y":-0.4},{"x":1.23,"y":0},{"x":1.27,"y":0.4},{"x":1.24,"y":0.8},{"x":1.26,"y":1.2},{"x":1.45,"y":-1.7},{"x":1.47,"y":-1.3},{"x":1.44,"y":-0.9},{"x":1.46,"y":-0.5},{"x":1.43,"y":-0.1},{"x":1.47,"y":0.3},{"x":1.44,"y":0.7},{"x":1.46,"y":1.1},{"x":1.43,"y":1.45},{"x":1.65,"y":-1.8},{"x":1.67,"y":-1.4},{"x":1.64,"y":-1},{"x":1.66,"y":-0.6},{"x":1.63,"y":-0.2},{"x":1.67,"y":0.2},{"x":1.64,"y":0.6},{"x":1.66,"y":1},{"x":1.63,"y":1.4},{"x":1.85,"y":-1.75},{"x":1.87,"y":-1.35},{"x":1.84,"y":-0.95},{"x":1.86,"y":-0.5},{"x":1.83,"y":-0.1},{"x":1.87,"y":0.3},{"x":1.84,"y":0.7},{"x":1.86,"y":1.1},{"x":2.05,"y":-1.7},{"x":2.07,"y":-1.3},{"x":2.04,"y":-0.9},{"x":2.06,"y":-0.5},{"x":2.03,"y":-0.1},{"x":2.07,"y":0.3},{"x":2.04,"y":0.7},{"x":2.06,"y":1.1},{"x":2.03,"y":1.5},{"x":2.25,"y":-1.6},{"x":2.27,"y":-1.2},{"x":2.24,"y":-0.8},{"x":2.26,"y":-0.35},{"x":2.23,"y":0.05},{"x":2.27,"y":0.45},{"x":2.24,"y":0.85},{"x":2.26,"y":1.25},{"x":2.23,"y":1.65},{"x":2.45,"y":-1.55},{"x":2.47,"y":-1.15},{"x":2.44,"y":-0.75},{"x":2.46,"y":-0.35},{"x":2.43,"y":0.05},{"x":2.47,"y":0.45},{"x":2.44,"y":0.85},{"x":2.46,"y":1.2},{"x":2.65,"y":-1.55},{"x":2.67,"y":-1.15},{"x":2.64,"y":-0.75},{"x":2.66,"y":-0.35},{"x":2.63,"y":0.05},{"x":2.67,"y":0.45},{"x":2.64,"y":0.85},{"x":2.66,"y":1.25},{"x":2.85,"y":-1.7},{"x":2.87,"y":-1.3},{"x":2.84,"y":-0.9},{"x":2.86,"y":-0.5},{"x":2.83,"y":-0.1},{"x":2.87,"y":0.3},{"x":2.84,"y":0.7},{"x":2.86,"y":1.1},{"x":3.05,"y":-1.45},{"x":3.07,"y":-1.05},{"x":3.04,"y":-0.65},{"x":3.06,"y":-0.25},{"x":3.03,"y":0.15},{"x":3.07,"y":0.55},{"x":3.04,"y":0.95},{"x":3.06,"y":1.3},{"x":3.25,"y":-1.4},{"x":3.27,"y":-1},{"x":3.24,"y":-0.6},{"x":3.26,"y":-0.2},{"x":3.23,"y":0.2},{"x":3.27,"y":0.6},{"x":3.24,"y":1},{"x":3.45,"y":-1},{"x":3.47,"y":-0.6},{"x":3.44,"y":-0.15},{"x":3.46,"y":0.25},{"x":3.43,"y":0.65},{"x":3.65,"y":-0.95},{"x":3.67,"y":-0.5},{"x":3.64,"y":-0.1},{"x":3.66,"y":0.3},{"x":3.63,"y":0.7},{"x":3.85,"y":-0.8},{"x":3.87,"y":-0.35},{"x":3.84,"y":0.05},{"x":3.86,"y":0.45},
{"x":0.6,"y":-1},{"x":0.61,"y":-0.6},{"x":0.59,"y":-0.2},{"x":0.6,"y":0.2},{"x":1,"y":-1.15},{"x":1.01,"y":-0.75},{"x":0.99,"y":-0.35},{"x":1,"y":0.05},{"x":1.01,"y":0.45},{"x":0.99,"y":0.85},{"x":1.4,"y":-1.5},{"x":1.41,"y":-1.1},{"x":1.39,"y":-0.7},{"x":1.4,"y":-0.3},{"x":1.41,"y":0.1},{"x":1.39,"y":0.5},{"x":1.4,"y":0.9},{"x":1.41,"y":1.3},{"x":1.8,"y":-1.6},{"x":1.81,"y":-1.2},{"x":1.79,"y":-0.8},{"x":1.8,"y":-0.4},{"x":1.81,"y":0},{"x":1.79,"y":0.4},{"x":1.8,"y":0.8},{"x":1.81,"y":1.2},{"x":2.2,"y":-1.5},{"x":2.21,"y":-1.1},{"x":2.19,"y":-0.7},{"x":2.2,"y":-0.3},{"x":2.21,"y":0.1},{"x":2.19,"y":0.5},{"x":2.2,"y":0.9},{"x":2.21,"y":1.3},{"x":2.6,"y":-1.4},{"x":2.61,"y":-1},{"x":2.59,"y":-0.6},{"x":2.6,"y":-0.2},{"x":2.61,"y":0.2},{"x":2.59,"y":0.6},{"x":2.6,"y":1},{"x":3,"y":-1.3},{"x":3.01,"y":-0.9},{"x":2.99,"y":-0.5},{"x":3,"y":-0.1},{"x":3.01,"y":0.3},{"x":2.99,"y":0.7},{"x":3,"y":1.05},{"x":3.4,"y":-0.95},{"x":3.41,"y":-0.55},{"x":3.39,"y":-0.15},{"x":3.4,"y":0.25},{"x":3.41,"y":0.65}],
"cc":[{"x":-1.85,"y":0.9,"lo":0.2,"hi":1.55},{"x":-1.6,"y":0.45,"lo":0.05,"hi":0.85},{"x":-1.3,"y":0.15,"lo":-0.1,"hi":0.4},{"x":-1,"y":-0.02,"lo":-0.18,"hi":0.13},{"x":-0.5,"y":-0.15,"lo":-0.25,"hi":-0.05},{"x":0,"y":-0.2,"lo":-0.28,"hi":-0.13},{"x":1,"y":-0.2,"lo":-0.26,"hi":-0.14},{"x":2,"y":-0.1,"lo":-0.16,"hi":-0.04},{"x":3,"y":0.02,"lo":-0.04,"hi":0.08},{"x":4,"y":0.2,"lo":0.12,"hi":0.28},{"x":5,"y":0.42,"lo":0.28,"hi":0.56},{"x":5.5,"y":0.55,"lo":0.35,"hi":0.75},{"x":6.3,"y":0.72,"lo":0.45,"hi":1}],
"d":[{"x":5.29,"y":5.06},{"x":5,"y":4.41},{"x":4.4,"y":4.23},{"x":4,"y":3.43},{"x":5.79,"y":3.76},{"x":5.7,"y":3.23},{"x":5.6,"y":3},{"x":5.5,"y":2.9},{"x":5.39,"y":2.93},{"x":4.9,"y":2.95},{"x":5.1,"y":2.68},{"x":5.29,"y":2.5},{"x":6,"y":2.5},{"x":6,"y":2.15},{"x":1.5,"y":2.27},{"x":2,"y":2.37},{"x":3,"y":2.5},{"x":3.12,"y":2.5},{"x":-0.3,"y":0.8},{"x":-0.5,"y":-0.23},{"x":-0.39,"y":-0.52},{"x":-0.2,"y":-2.55},{"x":0,"y":-2.3},{"x":0.01,"y":-2.55},{"x":0.3,"y":-2.85},{"x":0.4,"y":-2.4},{"x":0.8,"y":-2.3},{"x":0.91,"y":-2.3},{"x":1,"y":-3.2},{"x":2,"y":-3.05},{"x":2.6,"y":-2.8},{"x":2.6,"y":-2.48},{"x":2.81,"y":-2.25},{"x":2.98,"y":-2.5},{"x":3.79,"y":-2.48},{"x":2.4,"y":-2.3},{"x":2.5,"y":-2},{"x":4.4,"y":-1.68},{"x":4,"y":-1.3},{"x":3.89,"y":-1.55},{"x":5.6,"y":-1.4},{"x":4.7,"y":-1.15},{"x":4.9,"y":-1.2},{"x":5.38,"y":-0.97},{"x":5.27,"y":-0.8},{"x":5.7,"y":-0.65},{"x":5.8,"y":-0.55},{"x":5.9,"y":-0.4},{"x":5.5,"y":-0.25},{"x":5.9,"y":0.1},{"x":5.7,"y":0.4},{"x":6,"y":0.55},{"x":5.9,"y":0.75},{"x":5.8,"y":0.9},{"x":0.5,"y":0.3},{"x":0.2,"y":0.4},
{"x":-0.2,"y":-1.45},{"x":-0.22,"y":-0.8},{"x":0,"y":-1.3},{"x":-0.03,"y":-1.1},{"x":0.02,"y":-0.5},{"x":0.1,"y":-1.4},{"x":0.13,"y":-1},{"x":0.2,"y":-1.2},{"x":0.18,"y":-0.6},{"x":0.22,"y":-0.1},{"x":0.19,"y":0.2},{"x":0.35,"y":-1.1},{"x":0.32,"y":-0.7},{"x":0.37,"y":-0.3},{"x":0.33,"y":0.1},{"x":0.5,"y":-1.9},{"x":0.48,"y":-1.6},{"x":0.53,"y":-1},{"x":0.47,"y":-0.55},{"x":0.52,"y":-0.15},{"x":0.7,"y":-1.65},{"x":0.68,"y":-1.35},{"x":0.72,"y":-0.95},{"x":0.67,"y":-0.5},{"x":0.73,"y":-0.2},{"x":0.9,"y":-1.55},{"x":0.87,"y":-1.1},{"x":0.92,"y":-0.75},{"x":0.88,"y":-0.3},{"x":0.93,"y":0.2},
{"x":1.07,"y":-2},{"x":1.03,"y":-1.4},{"x":1.08,"y":-1},{"x":1.02,"y":-0.6},{"x":1.07,"y":-0.2},{"x":1.03,"y":0.2},{"x":1.08,"y":0.6},{"x":1.03,"y":1.1},{"x":1.27,"y":-2.15},{"x":1.23,"y":-1.75},{"x":1.28,"y":-1.35},{"x":1.22,"y":-0.95},{"x":1.27,"y":-0.55},{"x":1.23,"y":-0.15},{"x":1.28,"y":0.25},{"x":1.22,"y":0.65},{"x":1.27,"y":1.05},
{"x":1.43,"y":-2.35},{"x":1.47,"y":-1.95},{"x":1.42,"y":-1.55},{"x":1.48,"y":-1.15},{"x":1.43,"y":-0.75},{"x":1.47,"y":-0.35},{"x":1.42,"y":0.05},{"x":1.48,"y":0.45},{"x":1.43,"y":0.85},{"x":1.47,"y":1.1},{"x":1.67,"y":-2.4},{"x":1.63,"y":-2},{"x":1.68,"y":-1.6},{"x":1.62,"y":-1.2},{"x":1.67,"y":-0.8},{"x":1.63,"y":-0.4},{"x":1.68,"y":0},{"x":1.62,"y":0.4},{"x":1.67,"y":0.8},{"x":1.63,"y":1.25},{"x":1.7,"y":1.75},
{"x":1.83,"y":-2.45},{"x":1.87,"y":-2.05},{"x":1.82,"y":-1.65},{"x":1.88,"y":-1.25},{"x":1.83,"y":-0.85},{"x":1.87,"y":-0.45},{"x":1.82,"y":-0.05},{"x":1.88,"y":0.35},{"x":1.83,"y":0.75},{"x":1.85,"y":1.6},{"x":2.07,"y":-2.4},{"x":2.03,"y":-2},{"x":2.08,"y":-1.6},{"x":2.02,"y":-1.2},{"x":2.07,"y":-0.8},{"x":2.03,"y":-0.4},{"x":2.08,"y":0},{"x":2.02,"y":0.4},{"x":2.07,"y":0.8},{"x":2.03,"y":1.05},
{"x":2.23,"y":-1.95},{"x":2.27,"y":-1.55},{"x":2.22,"y":-1.15},{"x":2.28,"y":-0.75},{"x":2.23,"y":-0.35},{"x":2.27,"y":0.05},{"x":2.22,"y":0.45},{"x":2.28,"y":0.85},{"x":2.23,"y":1.25},{"x":2.47,"y":-1.9},{"x":2.43,"y":-1.5},{"x":2.48,"y":-1.1},{"x":2.42,"y":-0.7},{"x":2.47,"y":-0.3},{"x":2.43,"y":0.1},{"x":2.48,"y":0.5},{"x":2.42,"y":0.9},{"x":2.47,"y":1.3},{"x":2.43,"y":1.65},
{"x":2.63,"y":-2.2},{"x":2.67,"y":-1.7},{"x":2.62,"y":-1.3},{"x":2.68,"y":-0.9},{"x":2.63,"y":-0.5},{"x":2.67,"y":-0.1},{"x":2.62,"y":0.3},{"x":2.68,"y":0.7},{"x":2.63,"y":1.1},{"x":2.67,"y":1.5},{"x":2.87,"y":-1.65},{"x":2.83,"y":-1.25},{"x":2.88,"y":-0.85},{"x":2.82,"y":-0.45},{"x":2.87,"y":-0.05},{"x":2.83,"y":0.35},{"x":2.88,"y":0.75},{"x":2.82,"y":1.15},{"x":2.87,"y":1.55},{"x":2.83,"y":1.9},
{"x":3.03,"y":-1.55},{"x":3.07,"y":-1.15},{"x":3.02,"y":-0.75},{"x":3.08,"y":-0.35},{"x":3.03,"y":0.05},{"x":3.07,"y":0.45},{"x":3.02,"y":0.85},{"x":3.08,"y":1.25},{"x":3.03,"y":1.65},{"x":3.27,"y":-1.7},{"x":3.23,"y":-1.3},{"x":3.28,"y":-0.9},{"x":3.22,"y":-0.5},{"x":3.27,"y":-0.1},{"x":3.23,"y":0.3},{"x":3.28,"y":0.7},{"x":3.22,"y":1.1},{"x":3.27,"y":1.5},{"x":3.23,"y":1.95},
{"x":3.43,"y":-1.5},{"x":3.47,"y":-1.1},{"x":3.42,"y":-0.7},{"x":3.48,"y":-0.3},{"x":3.43,"y":0.1},{"x":3.47,"y":0.5},{"x":3.42,"y":0.9},{"x":3.48,"y":1.3},{"x":3.43,"y":1.8},{"x":3.67,"y":-1.75},{"x":3.63,"y":-1.35},{"x":3.68,"y":-0.95},{"x":3.62,"y":-0.55},{"x":3.67,"y":-0.15},{"x":3.63,"y":0.25},{"x":3.68,"y":0.65},{"x":3.62,"y":1.05},{"x":3.67,"y":1.45},{"x":3.68,"y":2},
{"x":3.83,"y":-1.15},{"x":3.87,"y":-0.75},{"x":3.82,"y":-0.35},{"x":3.88,"y":0.05},{"x":3.83,"y":0.45},{"x":3.87,"y":0.85},{"x":3.82,"y":1.25},{"x":3.87,"y":1.7},{"x":4.07,"y":-1.1},{"x":4.03,"y":-0.7},{"x":4.08,"y":-0.3},{"x":4.02,"y":0.1},{"x":4.07,"y":0.5},{"x":4.03,"y":0.9},{"x":4.08,"y":1.3},{"x":4.02,"y":1.65},
{"x":4.23,"y":-0.8},{"x":4.27,"y":-0.35},{"x":4.22,"y":0.05},{"x":4.28,"y":0.45},{"x":4.23,"y":0.85},{"x":4.27,"y":1.25},{"x":4.22,"y":2.3},{"x":4.47,"y":-0.95},{"x":4.43,"y":-0.45},{"x":4.48,"y":0.05},{"x":4.42,"y":0.45},{"x":4.47,"y":0.85},{"x":4.43,"y":1.25},{"x":4.48,"y":1.6},{"x":4.38,"y":2.2},
{"x":4.63,"y":-0.65},{"x":4.67,"y":-0.15},{"x":4.62,"y":0.35},{"x":4.68,"y":0.75},{"x":4.63,"y":1.15},{"x":4.67,"y":1.55},{"x":4.72,"y":2.2},{"x":4.87,"y":-0.65},{"x":4.83,"y":-0.05},{"x":4.88,"y":0.35},{"x":4.82,"y":0.8},{"x":4.87,"y":1.2},{"x":4.83,"y":1.7},{"x":4.88,"y":2.2},
{"x":5.07,"y":-0.4},{"x":5.03,"y":0.1},{"x":5.08,"y":0.6},{"x":5.02,"y":1},{"x":5.07,"y":1.4},{"x":5.03,"y":1.9},{"x":5.23,"y":-0.65},{"x":5.27,"y":-0.2},{"x":5.22,"y":0.3},{"x":5.28,"y":0.8},{"x":5.23,"y":1.25},{"x":5.27,"y":1.75},{"x":5.12,"y":2.2},{"x":5.47,"y":-0.05},{"x":5.43,"y":0.55},{"x":5.48,"y":1.05},{"x":5.42,"y":1.5},{"x":5.47,"y":2},{"x":5.65,"y":1},{"x":5.68,"y":1.3},{"x":5.7,"y":1.75},{"x":5.85,"y":0.85},{"x":5.88,"y":1.25},{"x":6,"y":0.6},{"x":6,"y":1.4},{"x":6,"y":1.7},{"x":6,"y":2.2},
{"x":1.15,"y":-1.6},{"x":1.17,"y":-1.2},{"x":1.14,"y":-0.8},{"x":1.16,"y":-0.4},{"x":1.13,"y":0},{"x":1.17,"y":0.4},{"x":1.35,"y":-1.9},{"x":1.37,"y":-1.55},{"x":1.34,"y":-1.15},{"x":1.36,"y":-0.75},{"x":1.33,"y":-0.35},{"x":1.37,"y":0.05},{"x":1.34,"y":0.45},{"x":1.36,"y":0.85},{"x":1.55,"y":-2.15},{"x":1.57,"y":-1.75},{"x":1.54,"y":-1.35},{"x":1.56,"y":-0.95},{"x":1.53,"y":-0.55},{"x":1.57,"y":-0.15},{"x":1.54,"y":0.25},{"x":1.56,"y":0.65},{"x":1.75,"y":-2.2},{"x":1.77,"y":-1.8},{"x":1.74,"y":-1.4},{"x":1.76,"y":-1},{"x":1.73,"y":-0.6},{"x":1.77,"y":-0.2},{"x":1.74,"y":0.2},{"x":1.76,"y":0.6},{"x":1.73,"y":1},{"x":1.95,"y":-2.2},{"x":1.97,"y":-1.8},{"x":1.94,"y":-1.4},{"x":1.96,"y":-1},{"x":1.93,"y":-0.6},{"x":1.97,"y":-0.2},{"x":1.94,"y":0.2},{"x":1.96,"y":0.6},{"x":2.15,"y":-2.2},{"x":2.17,"y":-1.75},{"x":2.14,"y":-1.35},{"x":2.16,"y":-1},{"x":2.13,"y":-0.6},{"x":2.17,"y":-0.2},{"x":2.14,"y":0.2},{"x":2.16,"y":0.6},{"x":2.13,"y":1},{"x":2.35,"y":-1.7},{"x":2.37,"y":-1.3},{"x":2.34,"y":-0.9},{"x":2.36,"y":-0.55},{"x":2.33,"y":-0.15},{"x":2.37,"y":0.25},{"x":2.34,"y":0.65},{"x":2.36,"y":1.05},{"x":2.33,"y":1.45},{"x":2.55,"y":-1.7},{"x":2.57,"y":-1.3},{"x":2.54,"y":-0.9},{"x":2.56,"y":-0.5},{"x":2.53,"y":-0.1},{"x":2.57,"y":0.3},{"x":2.54,"y":0.7},{"x":2.56,"y":1.1},{"x":2.53,"y":1.45},{"x":2.75,"y":-1.45},{"x":2.77,"y":-1.05},{"x":2.74,"y":-0.65},{"x":2.76,"y":-0.25},{"x":2.73,"y":0.15},{"x":2.77,"y":0.55},{"x":2.74,"y":0.95},{"x":2.76,"y":1.35},{"x":2.95,"y":-1.35},{"x":2.97,"y":-0.95},{"x":2.94,"y":-0.55},{"x":2.96,"y":-0.15},{"x":2.93,"y":0.25},{"x":2.97,"y":0.65},{"x":2.94,"y":1.05},{"x":2.96,"y":1.4},{"x":2.93,"y":1.75},{"x":3.15,"y":-1.45},{"x":3.17,"y":-1.05},{"x":3.14,"y":-0.55},{"x":3.16,"y":-0.15},{"x":3.13,"y":0.25},{"x":3.17,"y":0.65},{"x":3.14,"y":1.05},{"x":3.16,"y":1.45},{"x":3.35,"y":-1.3},{"x":3.37,"y":-0.9},{"x":3.34,"y":-0.5},{"x":3.36,"y":-0.1},{"x":3.33,"y":0.3},{"x":3.37,"y":0.7},{"x":3.34,"y":1.1},{"x":3.36,"y":1.5},{"x":3.55,"y":-1.3},{"x":3.57,"y":-0.9},{"x":3.54,"y":-0.5},{"x":3.56,"y":-0.1},{"x":3.53,"y":0.3},{"x":3.57,"y":0.7},{"x":3.54,"y":1.1},{"x":3.56,"y":1.5},{"x":3.75,"y":-0.95},{"x":3.77,"y":-0.55},{"x":3.74,"y":-0.15},{"x":3.76,"y":0.25},{"x":3.73,"y":0.65},{"x":3.77,"y":1.05},{"x":3.74,"y":1.45},{"x":3.95,"y":-0.9},{"x":3.97,"y":-0.5},{"x":3.94,"y":-0.1},{"x":3.96,"y":0.3},{"x":3.93,"y":0.7},{"x":3.97,"y":1.1},{"x":3.94,"y":1.5},{"x":4.15,"y":-0.5},{"x":4.17,"y":-0.1},{"x":4.14,"y":0.3},{"x":4.16,"y":0.7},{"x":4.13,"y":1.1},{"x":4.17,"y":1.5},{"x":4.35,"y":-0.1},{"x":4.37,"y":0.25},{"x":4.34,"y":0.65},{"x":4.36,"y":1.05},{"x":4.33,"y":1.45},{"x":4.55,"y":0.25},{"x":4.57,"y":0.65},{"x":4.54,"y":1.05},{"x":4.56,"y":1.45},{"x":4.75,"y":0.55},{"x":4.77,"y":0.95},{"x":4.74,"y":1.35},
{"x":1.3,"y":-1.35},{"x":1.31,"y":-0.95},{"x":1.29,"y":-0.55},{"x":1.3,"y":-0.15},{"x":1.31,"y":0.25},{"x":1.29,"y":0.65},{"x":1.7,"y":-1.6},{"x":1.71,"y":-1.2},{"x":1.69,"y":-0.8},{"x":1.7,"y":-0.4},{"x":1.71,"y":0},{"x":1.69,"y":0.4},{"x":1.7,"y":0.8},{"x":2.1,"y":-1.6},{"x":2.11,"y":-1.2},{"x":2.09,"y":-0.8},{"x":2.1,"y":-0.4},{"x":2.11,"y":0},{"x":2.09,"y":0.4},{"x":2.1,"y":0.8},{"x":2.5,"y":-1.5},{"x":2.51,"y":-1.1},{"x":2.49,"y":-0.7},{"x":2.5,"y":-0.3},{"x":2.51,"y":0.1},{"x":2.49,"y":0.5},{"x":2.5,"y":0.9},{"x":2.51,"y":1.25},{"x":2.9,"y":-1.15},{"x":2.91,"y":-0.75},{"x":2.89,"y":-0.35},{"x":2.9,"y":0.05},{"x":2.91,"y":0.45},{"x":2.89,"y":0.85},{"x":2.9,"y":1.25},{"x":3.3,"y":-1.1},{"x":3.31,"y":-0.7},{"x":3.29,"y":-0.3},{"x":3.3,"y":0.1},{"x":3.31,"y":0.5},{"x":3.29,"y":0.9},{"x":3.3,"y":1.3},{"x":3.7,"y":-0.75},{"x":3.71,"y":-0.35},{"x":3.69,"y":0.05},{"x":3.7,"y":0.45},{"x":3.71,"y":0.85},{"x":3.69,"y":1.25},{"x":4.1,"y":-0.3},{"x":4.11,"y":0.1},{"x":4.09,"y":0.5},{"x":4.1,"y":0.9},{"x":4.11,"y":1.3},{"x":4.5,"y":0.2},{"x":4.51,"y":0.6},{"x":4.49,"y":1},{"x":4.5,"y":1.4}],
"dc":[{"x":-0.5,"y":-1.05,"lo":-1.28,"hi":-0.82},{"x":0,"y":-0.85,"lo":-1,"hi":-0.7},{"x":1,"y":-0.55,"lo":-0.62,"hi":-0.48},{"x":2,"y":-0.32,"lo":-0.37,"hi":-0.27},{"x":3,"y":-0.02,"lo":-0.07,"hi":0.03},{"x":4,"y":0.32,"lo":0.25,"hi":0.39},{"x":5,"y":0.82,"lo":0.7,"hi":0.94},{"x":6,"y":1.35,"lo":1.15,"hi":1.55}]},
"concat":[
{"width":273,"height":180,"title":{"text":"A","dx":-51,"dy":7.6},"encoding":{"x":{"field":"x","type":"quantitative","title":"Change in weight (kg)","scale":{"domain":[-2.27,6.7],"nice":false,"zero":false},"axis":{"values":[-2,-1,0,1,2,3,4,5,6],"grid":false,"titlePadding":2,"labelExpr":"''+datum.value"}},"y":{"field":"y","type":"quantitative","title":"Change in HAZ","scale":{"domain":[-4.49,6.5],"nice":false,"zero":false},"axis":{"values":[-4,-2,0,2,4,6],"grid":true,"gridColor":"#eaf2f3","titlePadding":1,"labelExpr":"''+datum.value"}}},"layer":[{"data":{"name":"a"},"mark":{"type":"point","filled":true,"opacity":1,"size":40,"color":"#1a476f"}},{"data":{"name":"ac"},"mark":{"type":"area","color":"#bdbdbd","opacity":0.9,"interpolate":"monotone"},"encoding":{"y":{"field":"lo","type":"quantitative","title":"Change in HAZ","scale":{"domain":[-4.49,6.5],"nice":false,"zero":false},"axis":{"values":[-4,-2,0,2,4,6],"grid":true,"gridColor":"#eaf2f3","titlePadding":1,"labelExpr":"''+datum.value"}},"y2":{"field":"hi"}}},{"data":{"name":"ac"},"mark":{"type":"line","color":"#8f3a44","strokeWidth":1.5,"interpolate":"monotone"}}]},
{"width":289,"height":180,"title":{"text":"B","dx":-30,"dy":7.6},"encoding":{"x":{"field":"x","type":"quantitative","title":"Change in WAZ","scale":{"domain":[-2.25,6.27],"nice":false,"zero":false},"axis":{"values":[-2,-1,0,1,2,3,4,5,6],"grid":false,"titlePadding":2,"labelExpr":"''+datum.value"}},"y":{"field":"y","type":"quantitative","title":null,"scale":{"domain":[-4.49,6.5],"nice":false,"zero":false},"axis":{"values":[-4,-2,0,2,4,6],"grid":true,"gridColor":"#eaf2f3","labelExpr":"''+datum.value"}}},"layer":[{"data":{"name":"b"},"mark":{"type":"point","filled":true,"opacity":1,"size":40,"color":"#1a476f"}},{"data":{"name":"bc"},"mark":{"type":"area","color":"#bdbdbd","opacity":0.9,"interpolate":"monotone"},"encoding":{"y":{"field":"lo","type":"quantitative","title":null,"scale":{"domain":[-4.49,6.5],"nice":false,"zero":false},"axis":{"values":[-4,-2,0,2,4,6],"grid":true,"gridColor":"#eaf2f3","labelExpr":"''+datum.value"}},"y2":{"field":"hi"}}},{"data":{"name":"bc"},"mark":{"type":"line","color":"#8f3a44","strokeWidth":1.5,"interpolate":"monotone"}}]},
{"width":273,"height":179,"title":{"text":"C","dx":-50,"dy":4},"encoding":{"x":{"field":"x","type":"quantitative","title":"Change in WHZ","scale":{"domain":[-2.27,6.57],"nice":false,"zero":false},"axis":{"values":[-2,-1,0,1,2,3,4,5,6],"grid":false,"titlePadding":2,"labelExpr":"''+datum.value"}},"y":{"field":"y","type":"quantitative","title":"Change in HAZ","scale":{"domain":[-4.49,6.45],"nice":false,"zero":false},"axis":{"values":[-4,-2,0,2,4,6],"grid":true,"gridColor":"#eaf2f3","titlePadding":1,"labelExpr":"''+datum.value"}}},"layer":[{"data":{"name":"c"},"mark":{"type":"point","filled":true,"opacity":1,"size":40,"color":"#1a476f"}},{"data":{"name":"cc"},"mark":{"type":"area","color":"#bdbdbd","opacity":0.9,"interpolate":"monotone"},"encoding":{"y":{"field":"lo","type":"quantitative","title":"Change in HAZ","scale":{"domain":[-4.49,6.45],"nice":false,"zero":false},"axis":{"values":[-4,-2,0,2,4,6],"grid":true,"gridColor":"#eaf2f3","titlePadding":1,"labelExpr":"''+datum.value"}},"y2":{"field":"hi"}}},{"data":{"name":"cc"},"mark":{"type":"line","color":"#8f3a44","strokeWidth":1.5,"interpolate":"monotone"}}]},
{"width":289,"height":179,"title":{"text":"D","dx":-33,"dy":-4.8},"encoding":{"x":{"field":"x","type":"quantitative","title":"Change in MUAC (cm)","scale":{"domain":[-2.25,6.27],"nice":false,"zero":false},"axis":{"values":[-2,-1,0,1,2,3,4,5,6],"grid":false,"titlePadding":2,"labelExpr":"''+datum.value"}},"y":{"field":"y","type":"quantitative","title":null,"scale":{"domain":[-4.49,6.45],"nice":false,"zero":false},"axis":{"values":[-4,-2,0,2,4,6],"grid":true,"gridColor":"#eaf2f3","labelExpr":"''+datum.value"}}},"layer":[{"data":{"name":"d"},"mark":{"type":"point","filled":true,"opacity":1,"size":40,"color":"#1a476f"}},{"data":{"name":"dc"},"mark":{"type":"area","color":"#bdbdbd","opacity":0.9,"interpolate":"monotone"},"encoding":{"y":{"field":"lo","type":"quantitative","title":null,"scale":{"domain":[-4.49,6.45],"nice":false,"zero":false},"axis":{"values":[-4,-2,0,2,4,6],"grid":true,"gridColor":"#eaf2f3","labelExpr":"''+datum.value"}},"y2":{"field":"hi"}}},{"data":{"name":"dc"},"mark":{"type":"line","color":"#8f3a44","strokeWidth":1.5,"interpolate":"monotone"}}]}
]}
